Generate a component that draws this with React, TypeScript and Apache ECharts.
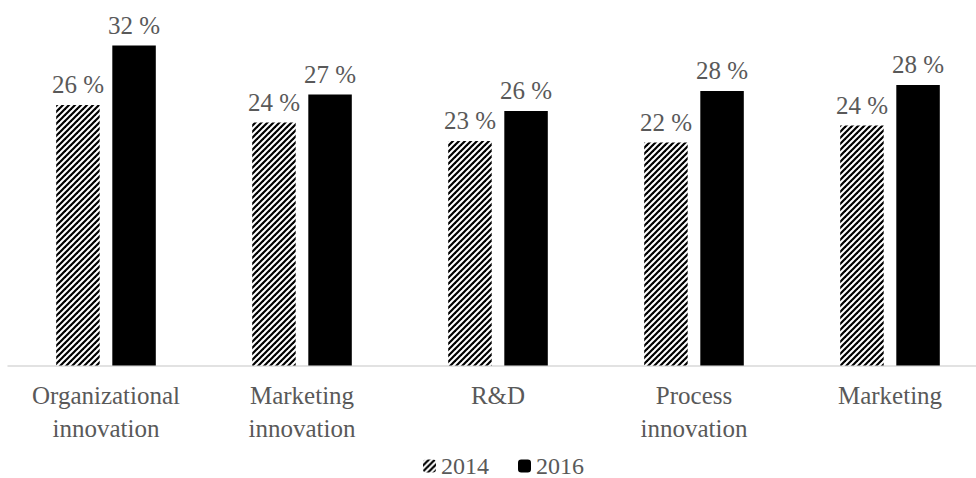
import React, { useEffect, useRef } from "react";
import * as echarts from "echarts";

const categories = [
  "Organizational\ninnovation",
  "Marketing\ninnovation",
  "R&D",
  "Process\ninnovation",
  "Marketing",
];
const seriesNames = ["2014", "2016"];
const values2014 = [26.05, 24.3, 22.45, 22.3, 24.0];
const values2016 = [32.0, 27.1, 25.45, 27.45, 28.05];
const labels2014 = ["26 %", "24 %", "23 %", "22 %", "24 %"];
const labels2016 = ["32 %", "27 %", "26 %", "28 %", "28 %"];

const FONT = "Liberation Serif";
const TEXT_COLOR = "#595959";

function makeHatch(): HTMLCanvasElement {
  const s = 6;
  const c = document.createElement("canvas");
  c.width = s;
  c.height = s;
  const ctx = c.getContext("2d")!;
  ctx.fillStyle = "#ffffff";
  ctx.fillRect(0, 0, s, s);
  ctx.strokeStyle = "#000000";
  ctx.lineWidth = 2.2;
  ctx.lineCap = "square";
  const segs = [
    [-s / 2, s / 2, s / 2, -s / 2],
    [0, s, s, 0],
    [s / 2, s * 1.5, s * 1.5, s / 2],
  ];
  for (const [x1, y1, x2, y2] of segs) {
    ctx.beginPath();
    ctx.moveTo(x1, y1);
    ctx.lineTo(x2, y2);
    ctx.stroke();
  }
  return c;
}

export default function App() {
  const ref = useRef<HTMLDivElement>(null);

  useEffect(() => {
    if (!ref.current) return;
    const chart = echarts.init(ref.current, undefined, { renderer: "svg" });
    const hatch = { image: makeHatch(), repeat: "repeat" } as any;

    const labelStyle = {
      show: true,
      position: "top",
      distance: 8,
      color: TEXT_COLOR,
      fontSize: 25,
      fontFamily: FONT,
    };

    chart.setOption({
      animation: false,
      backgroundColor: "#ffffff",
      textStyle: { fontFamily: FONT },
      grid: { left: 8, top: 5.5, width: 980, height: 360, containLabel: false },
      legend: {
        data: seriesNames,
        top: 454,
        left: 423,
        itemWidth: 13,
        itemHeight: 13,
        itemGap: 29,
        padding: 0,
        textStyle: { color: TEXT_COLOR, fontSize: 24, fontFamily: FONT },
      },
      xAxis: {
        type: "category",
        data: categories,
        axisLine: { show: true, lineStyle: { color: "#d9d9d9", width: 1.5 } },
        axisTick: { show: false },
        axisLabel: {
          interval: 0,
          margin: 13,
          color: TEXT_COLOR,
          fontSize: 25,
          lineHeight: 33,
          fontFamily: FONT,
        },
      },
      yAxis: {
        type: "value",
        min: 0,
        max: 36,
        show: false,
        splitLine: { show: false },
      },
      series: [
        {
          name: seriesNames[0],
          type: "bar",
          data: values2014,
          barWidth: 43.5,
          barGap: "29%",
          itemStyle: { color: hatch },
          label: { ...labelStyle, formatter: (p: any) => labels2014[p.dataIndex] },
        },
        {
          name: seriesNames[1],
          type: "bar",
          data: values2016,
          barWidth: 43.5,
          barGap: "29%",
          itemStyle: { color: "#000000" },
          label: { ...labelStyle, formatter: (p: any) => labels2016[p.dataIndex] },
        },
      ],
    });

    return () => chart.dispose();
  }, []);

  return (
    <div
      style={{
        position: "absolute",
        left: 0,
        top: 0,
        width: 976,
        height: 478,
        overflow: "hidden",
        background: "#ffffff",
      }}
    >
      <div ref={ref} style={{ width: 988, height: 478 }} />
    </div>
  );
}
